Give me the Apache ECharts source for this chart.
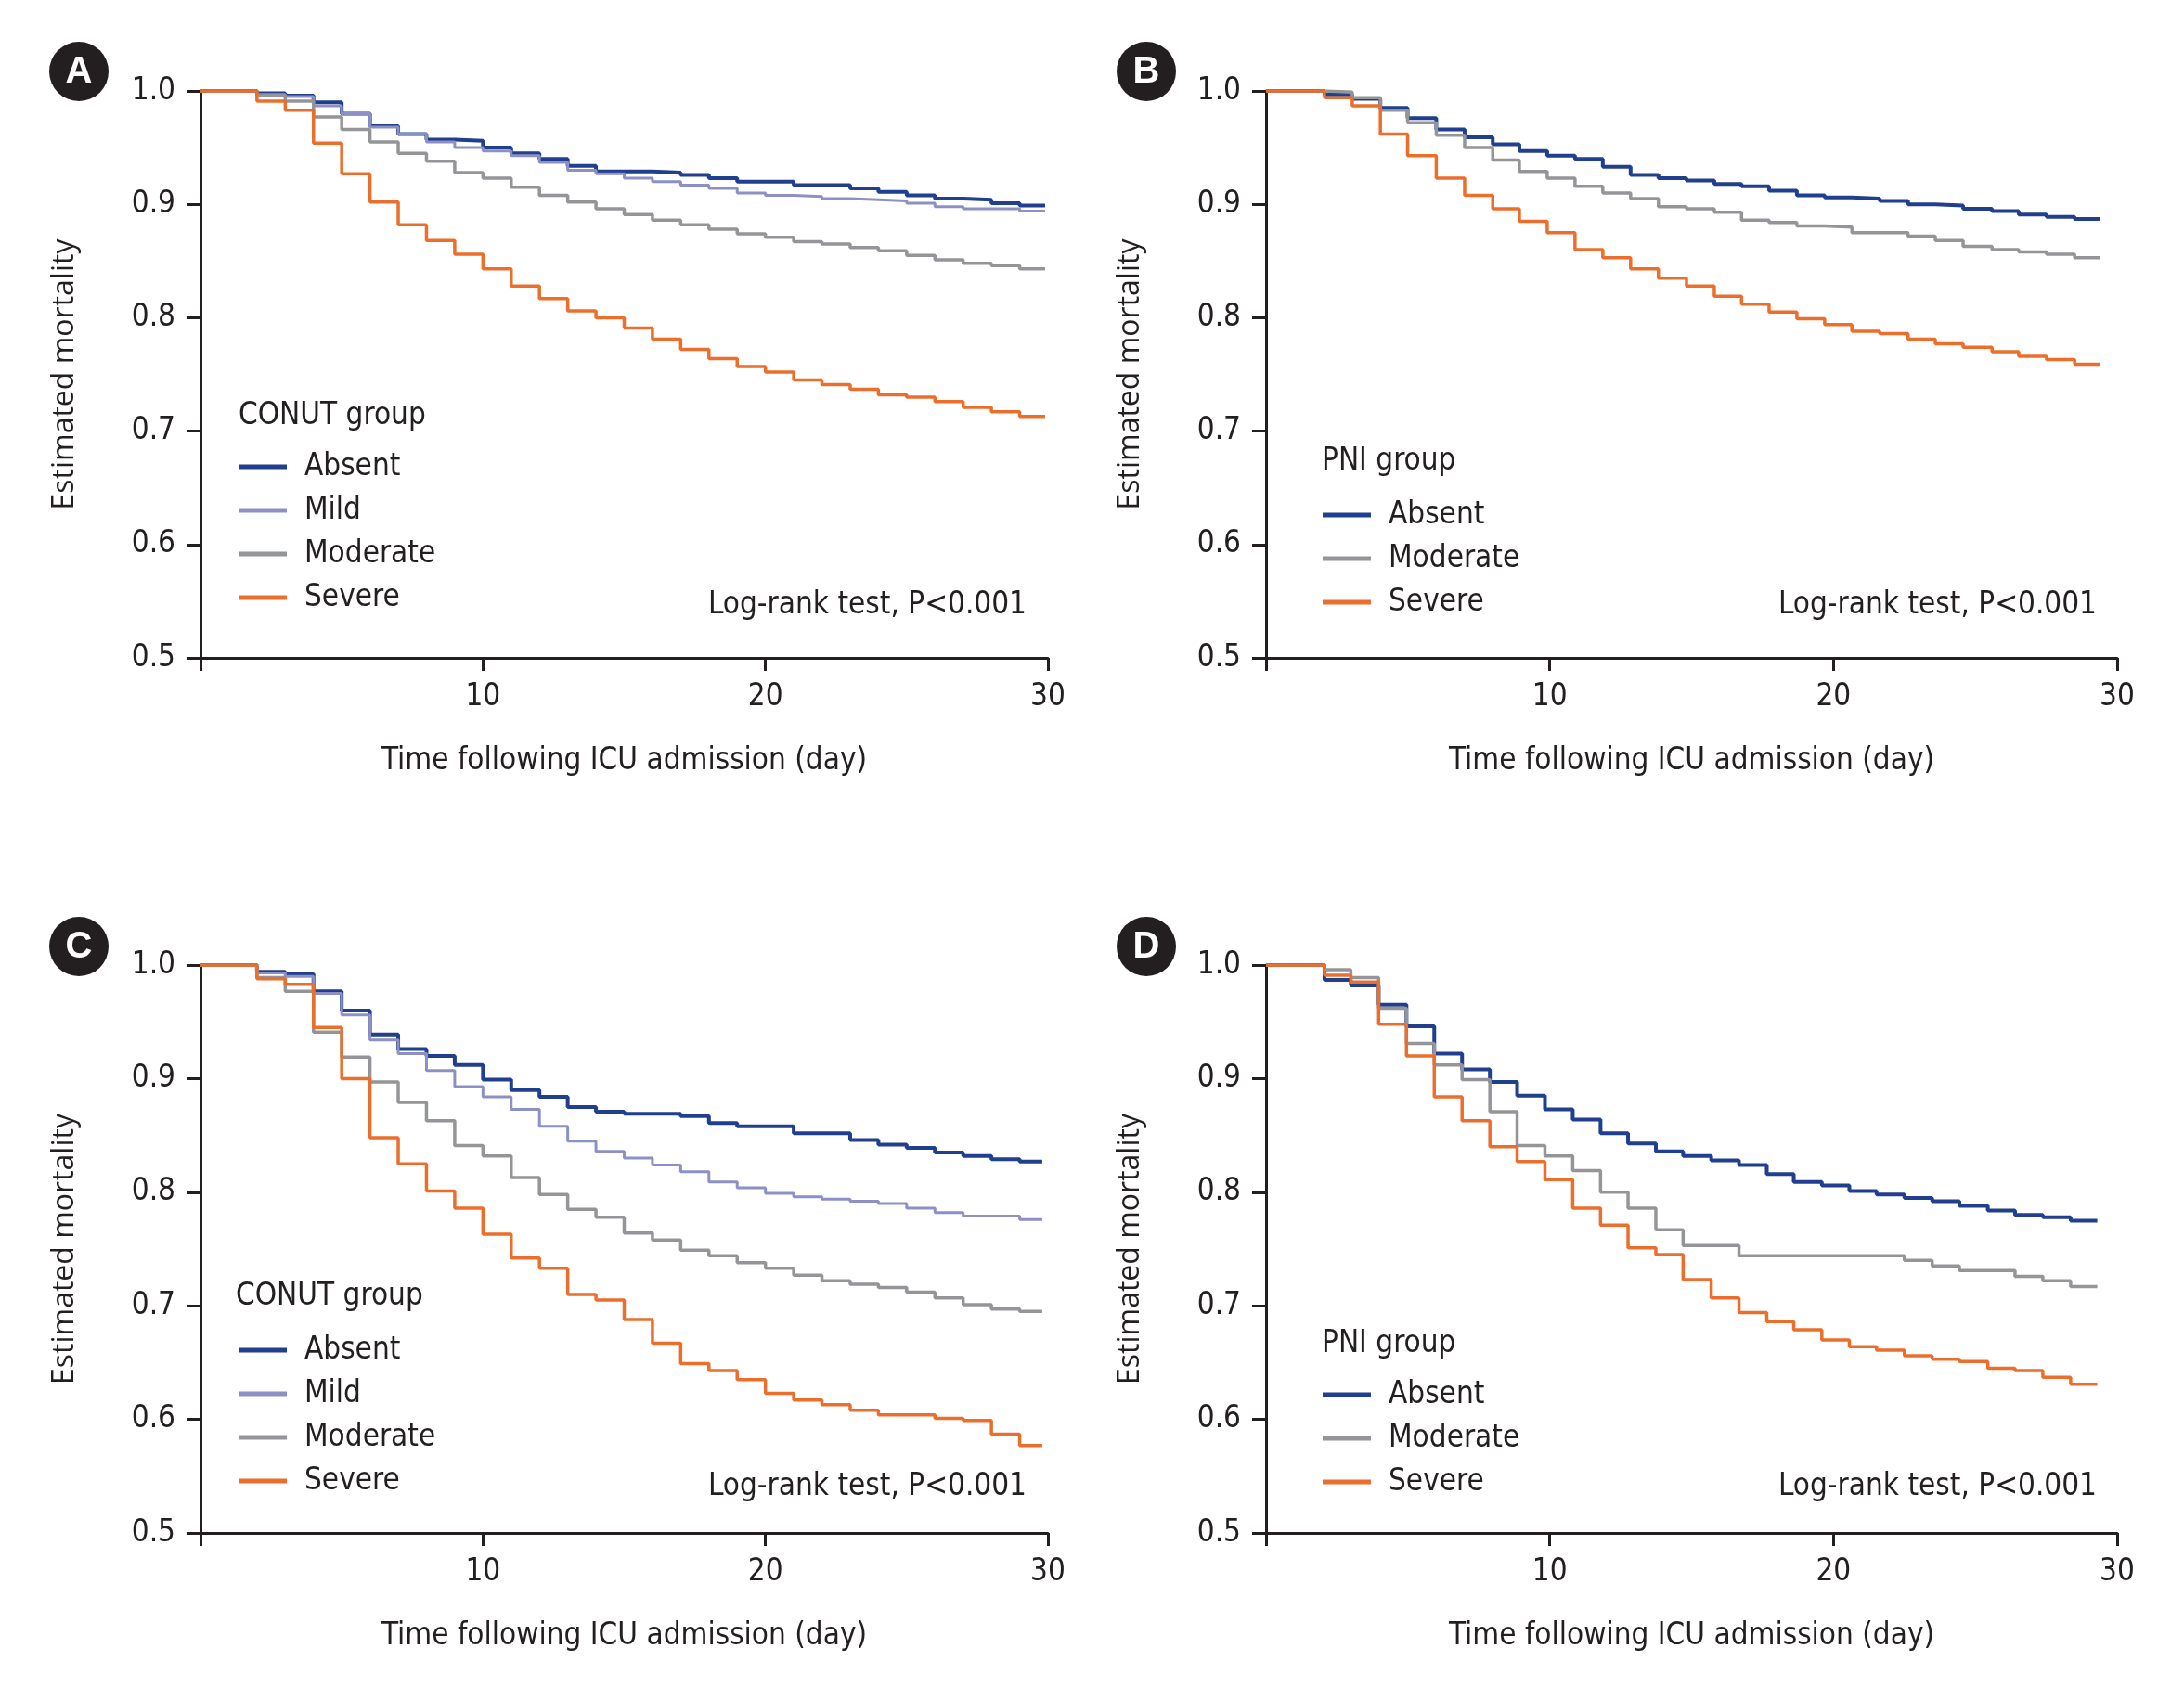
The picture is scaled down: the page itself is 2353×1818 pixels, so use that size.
<!DOCTYPE html>
<html>
<head>
<meta charset="utf-8">
<script src="https://cdn.jsdelivr.net/npm/echarts@6/dist/echarts.min.js"></script>
<style>
html,body{margin:0;padding:0;background:#fff;}
#chart{width:2353px;height:1818px;}
</style>
</head>
<body>
<div id="chart"></div>
<script>
// ---------- data ----------
const groupsCONUT = ['Absent', 'Mild', 'Moderate', 'Severe'];
const groupsPNI = ['Absent', 'Moderate', 'Severe'];
const xTickLabels = ['10', '20', '30'];

// Panel A: CONUT group
const timesA = [0, 2, 3, 4, 5, 6, 7, 8, 9, 10, 11, 12, 13, 14, 15, 16, 17, 18, 19, 20, 21, 22, 23, 24, 25, 26, 27, 28, 29, 29.9];
const A_absent   = [1.000, 0.998, 0.996, 0.990, 0.980, 0.969, 0.962, 0.957, 0.956, 0.950, 0.945, 0.940, 0.934, 0.929, 0.929, 0.928, 0.926, 0.923, 0.920, 0.920, 0.917, 0.917, 0.914, 0.911, 0.908, 0.905, 0.904, 0.901, 0.899, 0.899];
const A_mild     = [1.000, 0.997, 0.995, 0.987, 0.980, 0.968, 0.962, 0.955, 0.950, 0.947, 0.943, 0.937, 0.930, 0.927, 0.923, 0.920, 0.917, 0.914, 0.910, 0.908, 0.907, 0.905, 0.904, 0.903, 0.901, 0.898, 0.896, 0.896, 0.894, 0.894];
const A_moderate = [1.000, 0.996, 0.991, 0.977, 0.966, 0.955, 0.945, 0.938, 0.928, 0.923, 0.915, 0.908, 0.902, 0.896, 0.891, 0.886, 0.882, 0.878, 0.874, 0.871, 0.867, 0.865, 0.862, 0.859, 0.855, 0.851, 0.848, 0.846, 0.843, 0.843];
const A_severe   = [1.000, 0.991, 0.983, 0.954, 0.927, 0.902, 0.882, 0.868, 0.856, 0.843, 0.828, 0.817, 0.806, 0.800, 0.791, 0.781, 0.772, 0.764, 0.757, 0.752, 0.745, 0.741, 0.737, 0.732, 0.730, 0.726, 0.721, 0.717, 0.713, 0.713];

// Panel B: PNI group
const timesB = [0, 2.06, 3.04, 4.03, 4.99, 6.0, 7.0, 7.99, 8.93, 9.91, 10.89, 11.87, 12.85, 13.83, 14.82, 15.8, 16.76, 17.73, 18.71, 19.69, 20.65, 21.63, 22.63, 23.59, 24.57, 25.59, 26.53, 27.51, 28.5, 29.4];
const B_absent   = [1.000, 0.997, 0.993, 0.985, 0.976, 0.966, 0.959, 0.953, 0.947, 0.943, 0.940, 0.933, 0.926, 0.923, 0.921, 0.918, 0.916, 0.912, 0.908, 0.906, 0.905, 0.903, 0.900, 0.899, 0.896, 0.894, 0.891, 0.889, 0.887, 0.887];
const B_moderate = [1.000, 0.999, 0.994, 0.983, 0.972, 0.961, 0.950, 0.939, 0.929, 0.923, 0.916, 0.910, 0.905, 0.898, 0.896, 0.893, 0.886, 0.884, 0.881, 0.880, 0.875, 0.875, 0.872, 0.868, 0.863, 0.860, 0.858, 0.856, 0.853, 0.853];
const B_severe   = [1.000, 0.994, 0.987, 0.962, 0.943, 0.923, 0.908, 0.896, 0.885, 0.875, 0.860, 0.853, 0.843, 0.835, 0.828, 0.819, 0.812, 0.805, 0.799, 0.794, 0.788, 0.786, 0.781, 0.777, 0.774, 0.770, 0.766, 0.763, 0.759, 0.759];

// Panel C: CONUT group
const timesC = [0, 2, 3, 4, 5, 6, 7, 8, 9, 10, 11, 12, 13, 14, 15, 16, 17, 18, 19, 20, 21, 22, 23, 24, 25, 26, 27, 28, 29, 29.8];
const C_absent   = [1.000, 0.994, 0.992, 0.977, 0.960, 0.939, 0.926, 0.920, 0.912, 0.899, 0.890, 0.884, 0.875, 0.871, 0.869, 0.869, 0.867, 0.861, 0.858, 0.858, 0.852, 0.852, 0.846, 0.842, 0.839, 0.835, 0.832, 0.829, 0.827, 0.827];
const C_mild     = [1.000, 0.993, 0.990, 0.975, 0.956, 0.934, 0.922, 0.907, 0.893, 0.884, 0.873, 0.858, 0.845, 0.836, 0.830, 0.824, 0.818, 0.809, 0.804, 0.799, 0.796, 0.794, 0.792, 0.790, 0.786, 0.782, 0.779, 0.779, 0.776, 0.776];
const C_moderate = [1.000, 0.989, 0.977, 0.941, 0.919, 0.897, 0.879, 0.863, 0.841, 0.832, 0.813, 0.798, 0.785, 0.778, 0.764, 0.758, 0.749, 0.744, 0.738, 0.733, 0.727, 0.722, 0.719, 0.716, 0.712, 0.707, 0.701, 0.697, 0.695, 0.695];
const C_severe   = [1.000, 0.988, 0.983, 0.945, 0.900, 0.848, 0.825, 0.801, 0.786, 0.763, 0.742, 0.733, 0.710, 0.705, 0.688, 0.667, 0.649, 0.643, 0.635, 0.623, 0.617, 0.613, 0.608, 0.604, 0.604, 0.601, 0.599, 0.587, 0.577, 0.577];

// Panel D: PNI group
const timesD = [0, 2.06, 2.99, 3.97, 4.95, 5.93, 6.91, 7.89, 8.85, 9.83, 10.81, 11.79, 12.76, 13.74, 14.7, 15.69, 16.67, 17.65, 18.6, 19.59, 20.56, 21.52, 22.5, 23.48, 24.44, 25.44, 26.4, 27.38, 28.36, 29.3];
const D_absent   = [1.000, 0.987, 0.982, 0.965, 0.946, 0.922, 0.908, 0.897, 0.885, 0.873, 0.864, 0.852, 0.843, 0.836, 0.832, 0.828, 0.824, 0.816, 0.809, 0.806, 0.801, 0.798, 0.795, 0.792, 0.788, 0.784, 0.780, 0.778, 0.775, 0.775];
const D_moderate = [1.000, 0.996, 0.989, 0.962, 0.931, 0.912, 0.899, 0.871, 0.841, 0.832, 0.819, 0.800, 0.786, 0.767, 0.753, 0.753, 0.744, 0.744, 0.744, 0.744, 0.744, 0.744, 0.740, 0.735, 0.731, 0.731, 0.726, 0.722, 0.717, 0.717];
const D_severe   = [1.000, 0.991, 0.985, 0.948, 0.920, 0.884, 0.863, 0.840, 0.827, 0.811, 0.786, 0.771, 0.751, 0.745, 0.723, 0.707, 0.694, 0.686, 0.679, 0.670, 0.664, 0.661, 0.656, 0.653, 0.651, 0.645, 0.643, 0.637, 0.631, 0.631];

// ---------- styling ----------
const NARROW = "'Liberation Sans Narrow','DejaVu Sans Condensed','DejaVu Sans',sans-serif";
const REGULAR = "'Open Sans','Noto Sans',sans-serif";
const INK = '#231f20';
const FS = 33;
const COLORS = { Absent: '#213f8f', Mild: '#8d90c4', Moderate: '#939598', Severe: '#ec6e2c' };
const WIDTHS = { Absent: 4, Mild: 3, Moderate: 3.5, Severe: 3.5 };

const grids = [
  { left: 216, top: 98, width: 913, height: 611 },
  { left: 1364, top: 98, width: 917, height: 611 },
  { left: 216, top: 1040, width: 913, height: 612 },
  { left: 1364, top: 1040, width: 917, height: 612 }
];

function pairs(times, vals) { return times.map((t, i) => [t, vals[i]]); }

const panels = [
  { times: timesA, groups: groupsCONUT, vals: { Absent: A_absent, Mild: A_mild, Moderate: A_moderate, Severe: A_severe } },
  { times: timesB, groups: groupsPNI, vals: { Absent: B_absent, Moderate: B_moderate, Severe: B_severe } },
  { times: timesC, groups: groupsCONUT, vals: { Absent: C_absent, Mild: C_mild, Moderate: C_moderate, Severe: C_severe } },
  { times: timesD, groups: groupsPNI, vals: { Absent: D_absent, Moderate: D_moderate, Severe: D_severe } }
];

const xAxes = grids.map((g, i) => ({
  type: 'value', gridIndex: i, min: 0, max: 30, interval: 10,
  name: 'Time following ICU admission (day)', nameLocation: 'middle', nameGap: 95,
  nameTextStyle: { fontFamily: NARROW, fontSize: FS, color: INK },
  axisLine: { show: true, onZero: false, lineStyle: { color: INK, width: 3 } },
  axisTick: { show: true, length: 14, lineStyle: { color: INK, width: 3 } },
  axisLabel: { margin: 26, fontFamily: NARROW, fontSize: FS, color: INK,
    formatter: v => (v === 0 ? '' : xTickLabels[v / 10 - 1]) },
  splitLine: { show: false }
}));

const yAxes = grids.map((g, i) => ({
  type: 'value', gridIndex: i, min: 0.5, max: 1.0, interval: 0.1,
  name: 'Estimated mortality', nameLocation: 'middle', nameGap: 130,
  nameTextStyle: { fontFamily: REGULAR, fontSize: 32, color: INK },
  axisLine: { show: true, onZero: false, lineStyle: { color: INK, width: 3 } },
  axisTick: { show: true, length: 15, lineStyle: { color: INK, width: 3 } },
  axisLabel: { margin: 27, fontFamily: NARROW, fontSize: FS, color: INK, formatter: v => v.toFixed(1) },
  splitLine: { show: false }
}));

const series = [];
panels.forEach((p, i) => {
  p.groups.forEach(name => {
    series.push({
      type: 'line', name, xAxisIndex: i, yAxisIndex: i, step: 'end',
      symbol: 'none', showSymbol: false, silent: true,
      data: pairs(p.times, p.vals[name]),
      lineStyle: { color: COLORS[name], width: WIDTHS[name] },
      itemStyle: { color: COLORS[name] }
    });
  });
});

const legendPos = [
  { left: 257, top: 484, groups: groupsCONUT },
  { left: 1425, top: 536, groups: groupsPNI },
  { left: 257, top: 1436, groups: groupsCONUT },
  { left: 1425, top: 1484, groups: groupsPNI }
];
const legends = legendPos.map(l => ({
  left: l.left, top: l.top, orient: 'vertical', padding: 0,
  data: l.groups, selectedMode: false, icon: 'rect',
  itemWidth: 52, itemHeight: 5, itemGap: 9, itemTextGap: 20,
  textStyle: { fontFamily: NARROW, fontSize: FS, lineHeight: 38, color: INK, padding: [0, 0, 0, 14] }
}));

const badges = [
  { x: 85, y: 77, t: 'A' }, { x: 1235, y: 77, t: 'B' },
  { x: 85, y: 1020, t: 'C' }, { x: 1235, y: 1020, t: 'D' }
];
const groupTitles = [
  { x: 257, y: 448, t: 'CONUT group' }, { x: 1424, y: 497, t: 'PNI group' },
  { x: 254, y: 1397, t: 'CONUT group' }, { x: 1424, y: 1448, t: 'PNI group' }
];
const logRank = [
  { x: 1106, y: 652 }, { x: 2259, y: 652 }, { x: 1106, y: 1602 }, { x: 2259, y: 1602 }
];

const graphic = [];
badges.forEach(b => {
  graphic.push({ type: 'circle', shape: { cx: b.x, cy: b.y, r: 32 }, style: { fill: INK } });
  graphic.push({ type: 'text', x: b.x, y: b.y + 1, style: { text: b.t, fill: '#fff', font: "bold 40px 'Liberation Sans','DejaVu Sans',sans-serif", align: 'center', verticalAlign: 'middle' } });
});
groupTitles.forEach(g => {
  graphic.push({ type: 'text', x: g.x, y: g.y, style: { text: g.t, fill: INK, font: FS + 'px ' + NARROW, align: 'left', verticalAlign: 'middle' } });
});
logRank.forEach(g => {
  graphic.push({ type: 'text', x: g.x, y: g.y, style: { text: 'Log-rank test, P<0.001', fill: INK, font: FS + 'px ' + NARROW, align: 'right', verticalAlign: 'middle' } });
});

const chart = echarts.init(document.getElementById('chart'), null, { renderer: 'canvas', width: 2353, height: 1818 });
chart.setOption({
  animation: false,
  backgroundColor: '#ffffff',
  grid: grids,
  xAxis: xAxes,
  yAxis: yAxes,
  legend: legends,
  series,
  graphic
});
</script>
</body>
</html>
